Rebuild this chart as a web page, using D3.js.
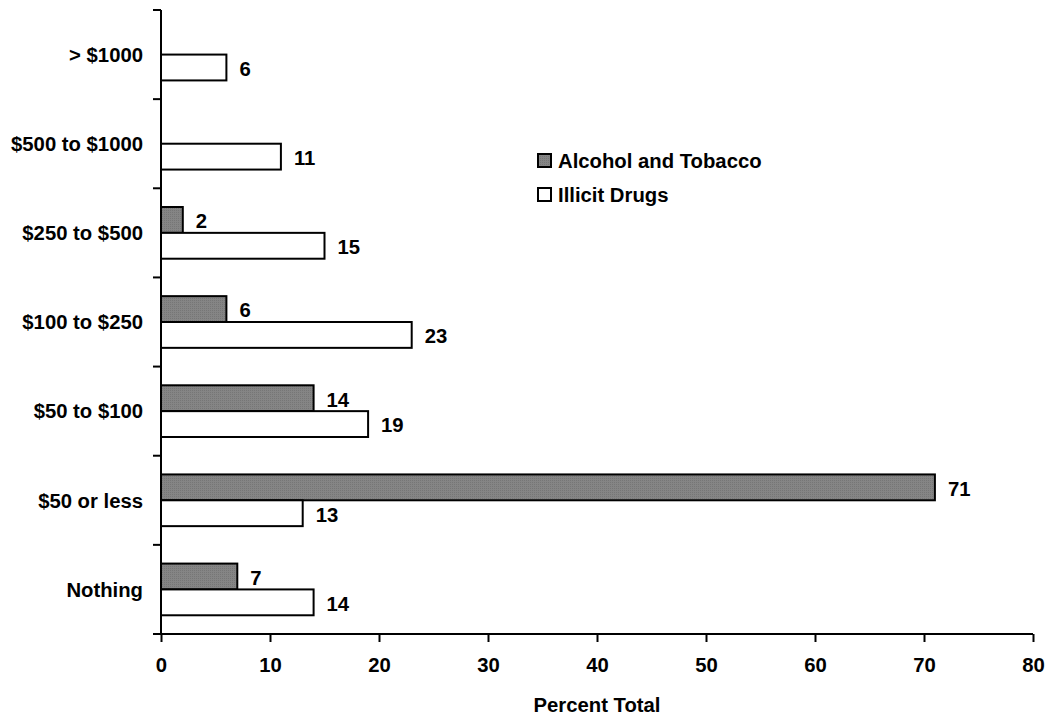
<!DOCTYPE html>
<html>
<head>
<meta charset="utf-8">
<script src="https://cdn.jsdelivr.net/npm/d3@7"></script>
<style>
  body { margin: 0; background: #fff; }
  svg { display: block; font-family: "Liberation Sans", Arial, sans-serif; font-weight: bold; }
</style>
</head>
<body>
<svg id="chart" width="1047" height="716"></svg>
<script>
// Amount spent, top to bottom
const categories = ["> $1000", "$500 to $1000", "$250 to $500", "$100 to $250", "$50 to $100", "$50 or less", "Nothing"];
const seriesNames = ["Alcohol and Tobacco", "Illicit Drugs"];
const alcoholTobacco = [null, null, 2, 6, 14, 71, 7];
const illicitDrugs = [6, 11, 15, 23, 19, 13, 14];
const xTicks = [0, 10, 20, 30, 40, 50, 60, 70, 80];

const FS = 20.3;
const svg = d3.select("#chart");
const margin = { left: 161, top: 10 };

// Dotted grey fill for the alcohol/tobacco bars
const defs = svg.append("defs");
const pat = defs.append("pattern").attr("id", "dots")
  .attr("width", 2).attr("height", 2).attr("patternUnits", "userSpaceOnUse");
pat.append("rect").attr("width", 2).attr("height", 2).attr("fill", "#858585");
pat.append("rect").attr("width", 1).attr("height", 1).attr("fill", "#767676");

const x = d3.scaleLinear().domain([0, 80]).range([margin.left, 1033]);
const y = d3.scaleBand().domain(categories).range([margin.top, 634]);
const bandPad = 0.21;
const inner = d3.scaleBand().domain(seriesNames)
  .range([y.bandwidth() * bandPad, y.bandwidth() * (1 - bandPad)]);

const fills = ["url(#dots)", "#fff"];
const rows = categories.map((c, i) => ({ c, vals: [alcoholTobacco[i], illicitDrugs[i]] }));

const g = svg.append("g");
rows.forEach(r => {
  r.vals.forEach((v, k) => {
    if (v == null) return;
    const yy = y(r.c) + inner(seriesNames[k]);
    g.append("rect")
      .attr("x", x(0)).attr("y", yy)
      .attr("width", x(v) - x(0)).attr("height", inner.bandwidth())
      .attr("fill", fills[k]).attr("stroke", "#000").attr("stroke-width", 2);
    g.append("text")
      .attr("x", x(v) + 13).attr("y", yy + inner.bandwidth() / 2 + 1)
      .attr("dy", "0.36em").attr("font-size", FS).attr("fill", "#000")
      .text(v);
  });
});

// X axis
const xAxis = svg.append("g").attr("transform", `translate(0,634)`)
  .call(d3.axisBottom(x).tickValues(xTicks).tickSize(8).tickPadding(16).tickSizeOuter(0));
xAxis.select(".domain").attr("d", `M153,0H${x(80)}`).attr("stroke-width", 2);
xAxis.selectAll(".tick line").attr("stroke-width", 2);
xAxis.selectAll("text").attr("font-size", FS).attr("font-family", "Liberation Sans, Arial, sans-serif")
  .attr("font-weight", "bold").attr("fill", "#000");

// Y axis: boundary ticks between categories
const yBounds = categories.map(c => y(c)).concat([y.range()[1]]);
const ya = svg.append("g");
ya.append("line").attr("x1", x(0)).attr("x2", x(0)).attr("y1", margin.top).attr("y2", 634)
  .attr("stroke", "#000").attr("stroke-width", 2);
ya.selectAll("line.t").data(yBounds).join("line").attr("class", "t")
  .attr("x1", 153).attr("x2", x(0)).attr("y1", d => d).attr("y2", d => d)
  .attr("stroke", "#000").attr("stroke-width", 2);
ya.selectAll("text").data(categories).join("text")
  .attr("x", 143).attr("y", d => y(d) + y.bandwidth() / 2)
  .attr("dy", "0.36em").attr("text-anchor", "end").attr("font-size", FS).text(d => d);

// Axis title
svg.append("text").attr("x", (x(0) + x(80)) / 2).attr("y", 712)
  .attr("text-anchor", "middle").attr("font-size", FS).text("Percent Total");

// Legend
const leg = svg.append("g").attr("transform", "translate(538,154)");
seriesNames.forEach((s, i) => {
  leg.append("rect").attr("x", 0).attr("y", i * 34).attr("width", 13).attr("height", 13)
    .attr("fill", fills[i]).attr("stroke", "#000").attr("stroke-width", 2);
  leg.append("text").attr("x", 20).attr("y", i * 34 + 7).attr("dy", "0.36em")
    .attr("font-size", FS).text(s);
});
</script>
</body>
</html>
